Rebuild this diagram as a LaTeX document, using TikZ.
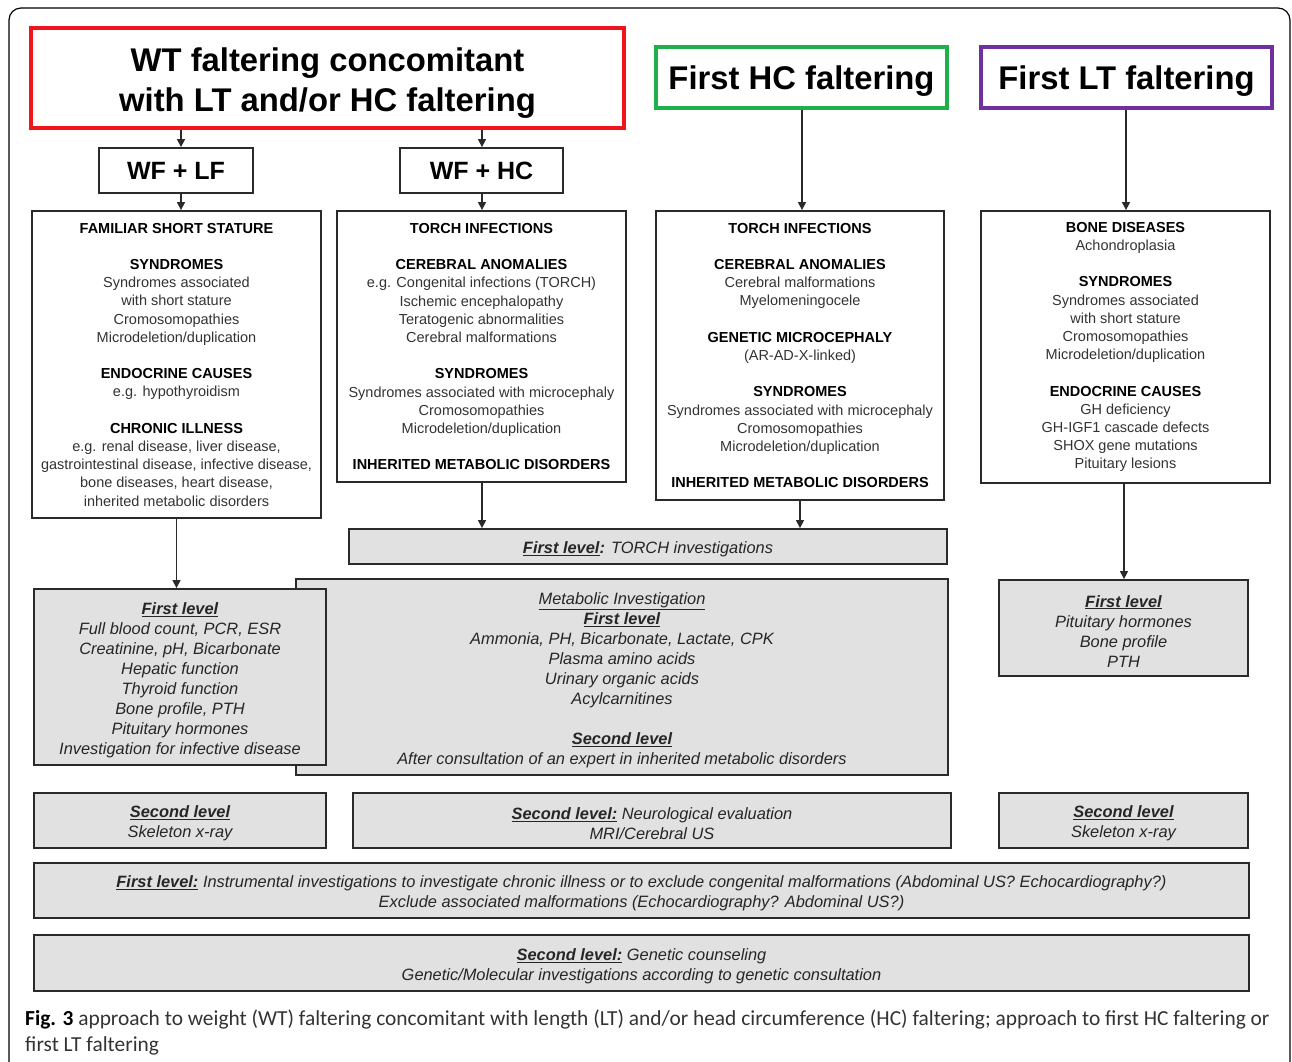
\documentclass[tikz,border=0pt]{standalone}
\usepackage{fontspec}
\setmainfont{Liberation Sans}
\newfontfamily\capfont{Carlito}
\usetikzlibrary{arrows.meta}
\definecolor{boxgray}{HTML}{E1E1E1}
\definecolor{edge}{HTML}{2A2A2A}
\definecolor{txt}{HTML}{333333}
\definecolor{redb}{HTML}{F0141E}
\definecolor{greenb}{HTML}{1DB04B}
\definecolor{purpleb}{HTML}{7030A0}
\newcommand\fBody{\fontsize{14.5}{18.2}\selectfont}
\newcommand\fIt{\fontsize{16.4}{20}\selectfont\itshape}
\newcommand\fTitle{\fontsize{32.8}{40}\selectfont\bfseries}
\newcommand\fWf{\fontsize{25}{30}\selectfont\bfseries}
\newcommand\hd[1]{\textcolor{black}{\textbf{#1}}}
\newcommand\ul[1]{\underline{\textbf{#1}}}
\newcommand\st{\rule{0pt}{18pt}}
\begin{document}
\begin{tikzpicture}[x=1pt,y=-1pt,
  top/.style={draw, line width=4, fill=white, inner sep=0pt},
  toptext/.style={inner sep=0pt, align=center, font=\fTitle},
  wf/.style={draw=edge, line width=1.8, fill=white, inner sep=0pt, align=center, font=\fWf},
  cause/.style={draw=edge, line width=1.8, fill=white, inner sep=0pt, align=center, font=\fBody, text=txt},
  inv/.style={draw=edge, line width=1.8, fill=boxgray, inner sep=0pt, align=center, font=\fIt, text=black!85},
  arr/.style={draw=edge, line width=1.3, -{Triangle[length=8,width=8]}}]
\useasboundingbox (0,0) rectangle (1292,1061);
\draw[line width=1.2, rounded corners=12] (9,1075) -- (9,8) -- (1290,8) -- (1290,1075);

% top level
\node[top, draw=redb, minimum width=593, minimum height=100] (red) at (327.5,78) {};
\node[toptext] (redt) at (327.5,83) {WT faltering concomitant\\with LT and/or HC faltering};
\node[top, draw=greenb, minimum width=291, minimum height=61] (green) at (801.5,77.5) {};
\node[toptext] (greent) at (801.5,81) {First HC faltering};
\node[top, draw=purpleb, minimum width=291, minimum height=61] (purple) at (1126.5,77.5) {};
\node[toptext] (purplet) at (1126.5,81) {First LT faltering};

\node[wf, minimum width=154, minimum height=45] (wflf) at (176,170.5) {WF + LF};
\node[wf, minimum width=163, minimum height=45] (wfhc) at (481.5,170.5) {WF + HC};

% cause boxes
\node[cause, minimum width=289, minimum height=307] (A) at (176.5,364.5) {%
\hd{FAMILIAR SHORT STATURE}\\[18.2pt]
\hd{SYNDROMES}\\
Syndromes associated\\with short stature\\Cromosomopathies\\Microdeletion/duplication\\[18.2pt]
\hd{ENDOCRINE CAUSES}\\e.g. hypothyroidism\\[18.2pt]
\hd{CHRONIC ILLNESS}\\e.g. renal disease, liver disease,\\gastrointestinal disease, infective disease,\\bone diseases, heart disease,\\inherited metabolic disorders};

\node[cause, minimum width=289, minimum height=271] (B) at (481.5,346.5) {%
\hd{TORCH INFECTIONS}\\[18.2pt]
\hd{CEREBRAL ANOMALIES}\\
e.g. Congenital infections (TORCH)\\Ischemic encephalopathy\\Teratogenic abnormalities\\Cerebral malformations\\[18.2pt]
\hd{SYNDROMES}\\Syndromes associated with microcephaly\\Cromosomopathies\\Microdeletion/duplication\\[18.2pt]
\hd{INHERITED METABOLIC DISORDERS}};

\node[cause, minimum width=288, minimum height=289] (C) at (800,355.5) {%
\hd{TORCH INFECTIONS}\\[18.2pt]
\hd{CEREBRAL ANOMALIES}\\
Cerebral malformations\\Myelomeningocele\\[18.2pt]
\hd{GENETIC MICROCEPHALY}\\(AR-AD-X-linked)\\[18.2pt]
\hd{SYNDROMES}\\Syndromes associated with microcephaly\\Cromosomopathies\\Microdeletion/duplication\\[18.2pt]
\hd{INHERITED METABOLIC DISORDERS}};

\node[cause, minimum width=289, minimum height=272] (D) at (1125.5,347) {%
\hd{BONE DISEASES}\\Achondroplasia\\[18.2pt]
\hd{SYNDROMES}\\
Syndromes associated\\with short stature\\Cromosomopathies\\Microdeletion/duplication\\[18.2pt]
\hd{ENDOCRINE CAUSES}\\GH deficiency\\GH-IGF1 cascade defects\\SHOX gene mutations\\Pituitary lesions};

% investigation boxes
\node[inv, minimum width=598, minimum height=35] (T) at (648,546.5)
  {\st\ul{First level}\textbf{:} TORCH investigations};
\node[inv, minimum width=652, minimum height=196] (M) at (622,677) {%
\st\underline{Metabolic Investigation}\\\ul{First level}\\
Ammonia, PH, Bicarbonate, Lactate, CPK\\Plasma amino acids\\Urinary organic acids\\Acylcarnitines\\[20pt]
\ul{Second level}\\After consultation of an expert in inherited metabolic disorders};
\node[inv, minimum width=292, minimum height=176] (E) at (180,677) {%
\st\ul{First level}\\Full blood count, PCR, ESR\\Creatinine, pH, Bicarbonate\\Hepatic function\\Thyroid function\\Bone profile, PTH\\Pituitary hormones\\Investigation for infective disease};
\node[inv, minimum width=249, minimum height=96] (G) at (1123.5,628) {%
\st\ul{First level}\\Pituitary hormones\\Bone profile\\PTH};

\node[inv, minimum width=292, minimum height=55] (H) at (180,820.5) {\st\ul{Second level}\\Skeleton x-ray};
\node[inv, minimum width=598, minimum height=55] (I) at (652,820.5) {\st\ul{Second level:} Neurological evaluation\\MRI/Cerebral US};
\node[inv, minimum width=249, minimum height=55] (J) at (1123.5,820.5) {\st\ul{Second level}\\Skeleton x-ray};
\node[inv, minimum width=1215, minimum height=55] (K) at (641.5,890.5) {%
\st\ul{First level:} Instrumental investigations to investigate chronic illness or to exclude congenital malformations (Abdominal US? Echocardiography?)\\
Exclude associated malformations (Echocardiography? Abdominal US?)};
\node[inv, minimum width=1215, minimum height=56] (L) at (641.5,963) {%
\st\ul{Second level:} Genetic counseling\\Genetic/Molecular investigations according to genetic consultation};

% connectors
\coordinate (x1) at (181,0);
\coordinate (x2) at (482,0);
\coordinate (x3) at (802,0);
\coordinate (x4) at (1126,0);
\coordinate (x5) at (800,0);
\coordinate (x6) at (1124,0);
\draw[arr] (x1 |- red.south) -- (x1 |- wflf.north);
\draw[arr] (x1 |- wflf.south) -- (x1 |- A.north);
\draw[arr] (x2 |- red.south) -- (x2 |- wfhc.north);
\draw[arr] (x2 |- wfhc.south) -- (x2 |- B.north);
\draw[arr] (x3 |- green.south) -- (x3 |- C.north);
\draw[arr] (x4 |- purple.south) -- (x4 |- D.north);
\draw[arr] (A.south) -- (A.south |- E.north);
\draw[arr] (x2 |- B.south) -- (x2 |- T.north);
\draw[arr] (x5 |- C.south) -- (x5 |- T.north);
\draw[arr] (x6 |- D.south) -- (x6 |- G.north);

% caption
\node[anchor=base west, align=left, inner sep=0pt, font=\capfont\fontsize{21.4}{26}\selectfont, text=black!80] (cap) at (25,1051)
  {\textbf{\textcolor{black}{Fig. 3}} approach to weight (WT) faltering concomitant with length (LT) and/or head circumference (HC) faltering; approach to first HC faltering or\\first LT faltering};
\end{tikzpicture}
\end{document}
